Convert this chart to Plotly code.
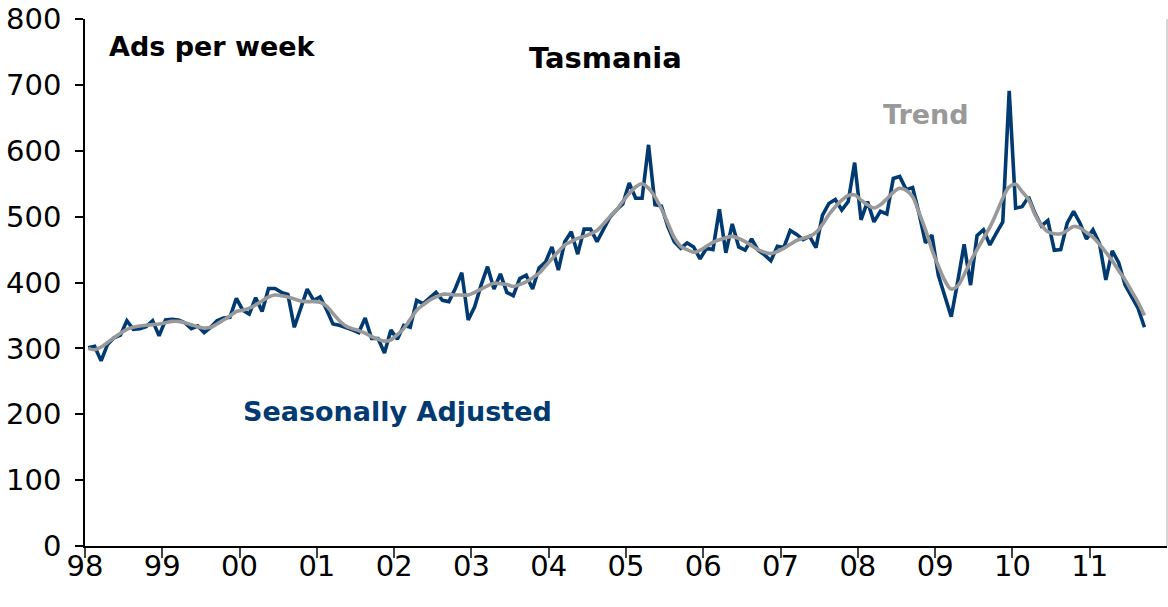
import plotly.graph_objects as go

start_year = 1998
seasonally_adjusted = [
    301, 303, 281, 306, 316, 320, 342, 329, 330, 333, 342, 319,
    343, 344, 343, 339, 330, 334, 324, 332, 342, 346, 347, 376,
    358, 352, 377, 356, 391, 391, 385, 382, 332, 360, 390, 373,
    378, 359, 337, 335, 332, 328, 324, 346, 315, 315, 293, 328,
    314, 335, 332, 373, 368, 377, 385, 373, 371, 391, 415, 343,
    363, 396, 424, 390, 413, 385, 380, 406, 411, 390, 422, 431,
    454, 419, 462, 477, 443, 481, 481, 462, 480, 499, 510, 519,
    551, 528, 528, 609, 518, 516, 485, 462, 452, 460, 454, 436,
    452, 450, 511, 445, 489, 454, 449, 466, 449, 442, 433, 455,
    453, 479, 473, 465, 470, 453, 502, 520, 526, 510, 523, 582,
    495, 523, 492, 508, 504, 558, 561, 541, 544, 505, 460, 472,
    411, 378, 348, 401, 458, 396, 471, 480, 457, 475, 492, 691,
    513, 515, 530, 505, 486, 494, 449, 450, 490, 508, 490, 466,
    480, 460, 404, 448, 430, 396, 378, 361, 332,
]
trend = [
    300, 298, 302, 309, 316, 323, 329, 332, 334, 335, 336, 337,
    339, 341, 341, 339, 336, 333, 331, 332, 337, 343, 349, 356,
    358, 361, 366, 372, 378, 381, 380, 378, 375, 372, 371, 371,
    370, 364, 353, 342, 334, 330, 327, 323, 318, 314, 311, 313,
    321, 330, 344, 358, 366, 373, 378, 382, 382, 381, 381, 381,
    385, 390, 395, 399, 398, 397, 394, 397, 401, 407, 414, 425,
    436, 447, 457, 462, 467, 470, 474, 479, 489, 500, 510, 523,
    535, 545, 550, 543, 530, 512, 490, 468, 455, 450, 446, 449,
    455, 461, 465, 468, 470, 467, 462, 456, 450, 446, 444, 447,
    452, 458, 464, 467, 470, 476, 488, 503, 515, 525, 532, 533,
    525, 518, 513, 518, 527, 537, 543, 540, 530, 506, 480, 450,
    425, 403, 390, 395, 412, 432, 450, 467, 484, 505, 528, 545,
    549, 538, 526, 503, 487, 477, 474, 474, 479, 485, 483, 476,
    469, 458, 446, 433, 418, 404, 387, 370, 350,
]
tick_years = list(range(1998, 2012))
tick_labels = ["98", "99", "00", "01", "02", "03", "04", "05", "06", "07", "08", "09", "10", "11"]
y_ticks = [0, 100, 200, 300, 400, 500, 600, 700, 800]

x_vals = [start_year + (i + 0.5) / 12 for i in range(len(seasonally_adjusted))]

NAVY = "#003A70"
GREY = "#999999"
FONT = "DejaVu Sans"

fig = go.Figure()
fig.add_trace(go.Scatter(x=x_vals, y=seasonally_adjusted, mode="lines",
                         line=dict(color=NAVY, width=3.6), showlegend=False))
fig.add_trace(go.Scatter(x=x_vals, y=trend, mode="lines",
                         line=dict(color=GREY, width=3.6, shape="spline"), showlegend=False))

fig.update_layout(
    width=1168, height=607,
    margin=dict(l=85, r=1, t=19, b=61),
    paper_bgcolor="white", plot_bgcolor="white",
    font=dict(family=FONT, color="black"),
    xaxis=dict(range=[1998, 2012], tickvals=tick_years, ticktext=tick_labels,
               automargin=False,
               showgrid=False, zeroline=False, showline=True, linecolor="black", linewidth=1.5,
               ticks="outside", ticklen=10, tickcolor="#444", tickwidth=1.5,
               ticklabelstandoff=-17,
               tickfont=dict(size=29, family=FONT, color="black")),
    yaxis=dict(range=[0, 800], tickvals=y_ticks, automargin=False,
               showgrid=False, zeroline=False, showline=True, linecolor="black", linewidth=1.5,
               ticks="outside", ticklen=8, tickcolor="black", tickwidth=1.5,
               ticklabelstandoff=8,
               tickfont=dict(size=29, family=FONT, color="black")),
    shapes=[dict(type="line", xref="paper", yref="paper", x0=1, x1=1, y0=0, y1=1,
                 line=dict(color="#c8c8c8", width=1.5))],
    annotations=[
        dict(text="<b>Ads per week</b>", xref="paper", yref="paper", x=0.0203, y=0.947,
             xanchor="left", yanchor="middle", showarrow=False,
             font=dict(size=27, family=FONT, color="black")),
        dict(text="<b>Tasmania</b>", xref="paper", yref="paper", x=0.4815, y=0.926,
             xanchor="center", yanchor="middle", showarrow=False,
             font=dict(size=29, family=FONT, color="black")),
        dict(text="<b>Trend</b>", xref="paper", yref="paper", x=0.777, y=0.818,
             xanchor="center", yanchor="middle", showarrow=False,
             font=dict(size=27, family=FONT, color=GREY)),
        dict(text="<b>Seasonally Adjusted</b>", xref="paper", yref="paper", x=0.289, y=0.256,
             xanchor="center", yanchor="middle", showarrow=False,
             font=dict(size=27, family=FONT, color=NAVY)),
    ],
)

# remove the browser's default 8px body margin so the figure sits at the page origin
fig.write_html("out.html", config={"displayModeBar": False},
               post_script="document.body.style.margin='0';")
